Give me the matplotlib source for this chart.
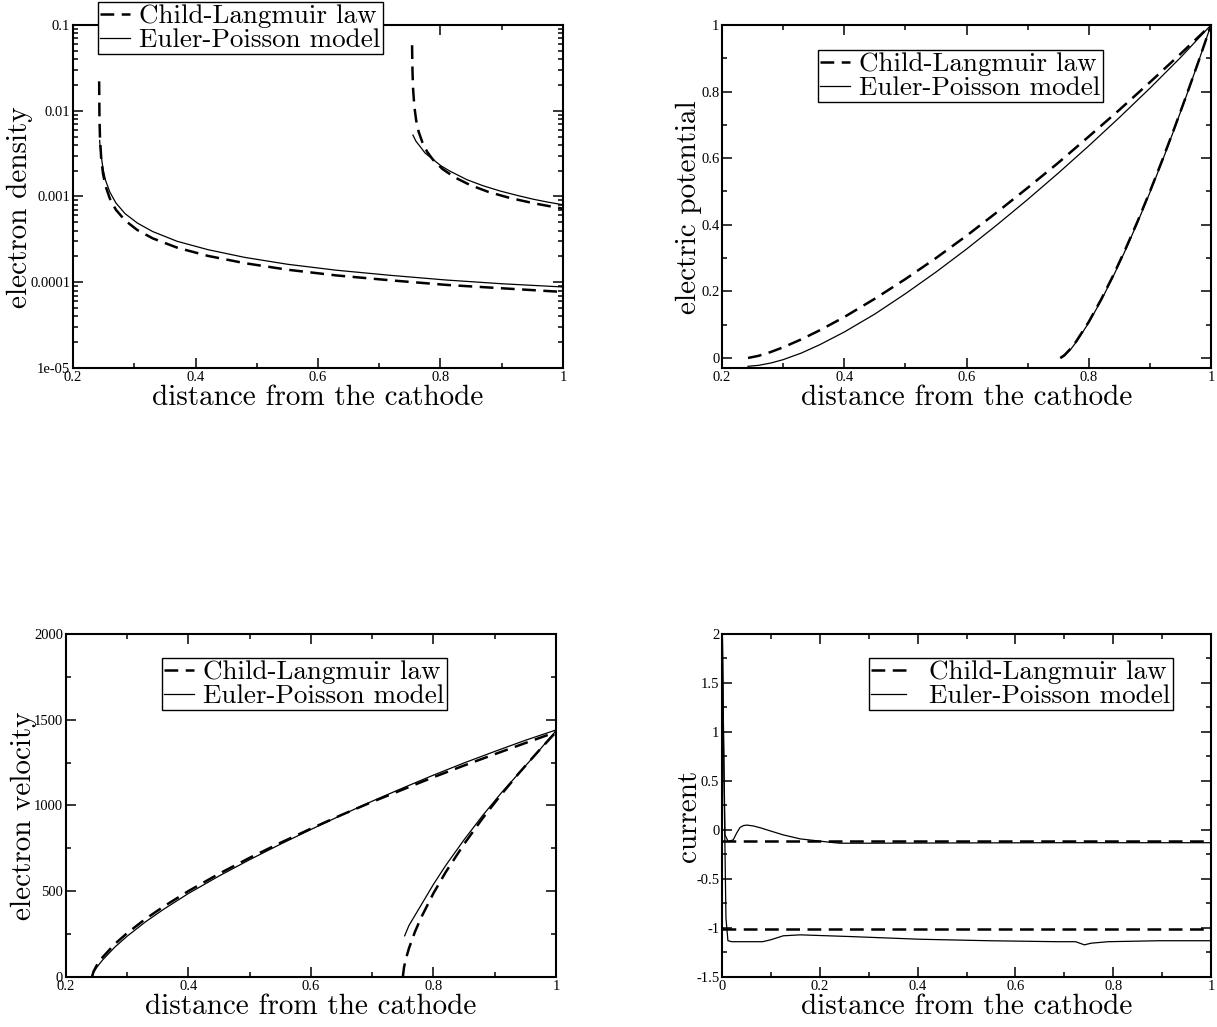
import matplotlib
matplotlib.use("Agg")
import matplotlib.pyplot as plt
from matplotlib.ticker import MultipleLocator, FuncFormatter, LogLocator, NullFormatter

# Text used on every panel
LEGEND_LABELS = ["Child-Langmuir law", "Euler-Poisson model"]
X_LABEL = "distance from the cathode"

# Electron density (top left, log scale)
dens_cl_x1 = [0.24266, 0.2432, 0.244, 0.246, 0.249, 0.253, 0.26, 0.27, 0.285, 0.305, 0.33,
              0.37, 0.42, 0.48, 0.55, 0.63, 0.72, 0.81, 0.90, 1.0]
dens_cl_y1 = [0.022, 0.0081, 0.0049, 0.00278, 0.00184, 0.00133, 0.00095, 0.00070, 0.000525,
              0.000406, 0.000325, 0.000253, 0.000203, 0.000167, 0.000140, 0.000120, 0.000105,
              0.000093, 0.000085, 0.000077]
dens_ep_x1 = [0.2435, 0.244, 0.246, 0.249, 0.253, 0.26, 0.27, 0.285, 0.305, 0.33, 0.37, 0.42,
              0.48, 0.55, 0.63, 0.72, 0.81, 0.90, 1.0]
dens_ep_y1 = [0.0045, 0.0040, 0.0030, 0.0021, 0.00155, 0.00113, 0.00084, 0.00063, 0.00049,
              0.00039, 0.00030, 0.00024, 0.000195, 0.000162, 0.000138, 0.000120, 0.000106,
              0.000096, 0.000088]
dens_cl_x2 = [0.75364, 0.7538, 0.7543, 0.7553, 0.7573, 0.7603, 0.7643, 0.7703, 0.7783, 0.7883,
              0.8033, 0.8233, 0.8483, 0.8783, 0.9133, 0.9533, 1.0]
dens_cl_y2 = [0.058, 0.0449, 0.0283, 0.0178, 0.0112, 0.0077, 0.0057, 0.0043, 0.00331, 0.00265,
              0.00209, 0.00167, 0.00136, 0.00113, 0.00096, 0.00083, 0.00072]
dens_ep_x2 = [0.755, 0.76, 0.767, 0.775, 0.788, 0.80, 0.815, 0.83, 0.843, 0.87, 0.897, 0.925,
              0.951, 0.975, 1.0]
dens_ep_y2 = [0.0052, 0.0044, 0.0038, 0.0032, 0.0027, 0.0023, 0.00198, 0.00175, 0.00157,
              0.00133, 0.00116, 0.00103, 0.00093, 0.00086, 0.00080]

# Electric potential (top right)
pot_x1 = [0.2425, 0.26, 0.28, 0.30, 0.33, 0.36, 0.40, 0.45, 0.50, 0.55, 0.60, 0.65, 0.70,
          0.75, 0.80, 0.85, 0.90, 0.95, 1.0]
pot_cl_y1 = [0.0, 0.0066, 0.0182, 0.0321, 0.0562, 0.0833, 0.123, 0.178, 0.237, 0.300, 0.367,
             0.438, 0.511, 0.586, 0.665, 0.745, 0.828, 0.913, 1.0]
pot_ep_y1 = [-0.025, -0.022, -0.015, -0.005, 0.015, 0.040, 0.078, 0.132, 0.193, 0.258, 0.327,
             0.400, 0.476, 0.555, 0.637, 0.722, 0.810, 0.902, 1.0]
pot_cl_x2 = [0.7533, 0.76, 0.77, 0.78, 0.80, 0.82, 0.84, 0.86, 0.88, 0.90, 0.92, 0.94, 0.96,
             0.98, 1.0]
pot_cl_y2 = [0.0, 0.0082, 0.0276, 0.0516, 0.1087, 0.175, 0.248, 0.327, 0.411, 0.500, 0.593,
             0.690, 0.790, 0.893, 1.0]
pot_ep_x2 = [0.755, 0.76, 0.77, 0.78, 0.80, 0.82, 0.84, 0.86, 0.88, 0.90, 0.92, 0.94, 0.96,
             0.98, 1.0]
pot_ep_y2 = [0.0, 0.006, 0.025, 0.049, 0.106, 0.172, 0.245, 0.324, 0.408, 0.497, 0.590, 0.688,
             0.789, 0.893, 1.0]

# Electron velocity (bottom left)
vel_x1 = [0.2425, 0.245, 0.25, 0.26, 0.28, 0.30, 0.33, 0.36, 0.40, 0.45, 0.50, 0.55, 0.60,
          0.65, 0.70, 0.75, 0.80, 0.85, 0.90, 0.95, 1.0]
vel_cl_y1 = [0, 32, 66, 116, 193, 256, 339, 412, 501, 602, 695, 782, 865, 945, 1021, 1093,
             1165, 1233, 1299, 1364, 1428]
vel_ep_y1 = [0, 25, 55, 100, 175, 238, 322, 396, 487, 589, 684, 774, 860, 944, 1025, 1102,
             1177, 1248, 1315, 1380, 1440]
vel_cl_x2 = [0.750, 0.752, 0.755, 0.76, 0.77, 0.78, 0.80, 0.82, 0.85, 0.88, 0.91, 0.94, 0.97,
             1.0]
vel_cl_y2 = [0, 57, 105, 167, 265, 347, 488, 611, 775, 924, 1061, 1190, 1311, 1428]
vel_ep_x2 = [0.753, 0.76, 0.78, 0.80, 0.82, 0.85, 0.88, 0.91, 0.94, 0.97, 1.0]
vel_ep_y2 = [240, 300, 420, 540, 650, 800, 940, 1070, 1190, 1310, 1435]

# Current (bottom right)
cur_x = [0.0, 1.0]
cur_cl_y1 = [-0.108, -0.108]
cur_cl_y2 = [-1.014, -1.014]
cur_ep_x1 = [0.0, 0.003, 0.006, 0.0126, 0.023, 0.03, 0.037, 0.044, 0.051, 0.065, 0.08, 0.097,
             0.125, 0.16, 0.195, 0.22, 0.24, 0.30, 0.50, 0.70, 1.0]
cur_ep_y1 = [2.3, 1.0, -0.05, -0.118, -0.10, -0.03, 0.027, 0.045, 0.05, 0.04, 0.02, -0.007,
             -0.05, -0.091, -0.111, -0.125, -0.135, -0.135, -0.132, -0.13, -0.13]
cur_ep_x2 = [0.0, 0.004, 0.008, 0.012, 0.02, 0.083, 0.10, 0.125, 0.16, 0.265, 0.405, 0.545,
             0.685, 0.723, 0.741, 0.755, 0.79, 0.895, 1.0]
cur_ep_y2 = [2.3, 0.5, -0.9, -1.13, -1.14, -1.14, -1.12, -1.08, -1.07, -1.088, -1.115, -1.13,
             -1.14, -1.14, -1.172, -1.155, -1.14, -1.13, -1.13]

CM_FONT = "cmr10"
TICK_FONT = "Liberation Serif"
LABEL_SIZE = 21
LEGEND_SIZE = 19.5
DASHES = (5.5, 3)


# Sets spines, ticks and tick labels like the original xmgrace output
def style_axes(ax, xmajor, ymajor=None, ylog=False):
    for spine in ax.spines.values():
        spine.set_linewidth(1.5)

    ax.xaxis.set_major_locator(MultipleLocator(xmajor))
    ax.xaxis.set_minor_locator(MultipleLocator(xmajor / 2))
    ax.xaxis.set_major_formatter(FuncFormatter(lambda v, p: f"{v:g}"))

    if ylog:
        ax.set_yscale("log")
        ax.yaxis.set_major_locator(LogLocator(base=10, numticks=10))
        ax.yaxis.set_minor_locator(LogLocator(base=10, subs=range(2, 10), numticks=20))
        ax.yaxis.set_minor_formatter(NullFormatter())
    else:
        ax.yaxis.set_major_locator(MultipleLocator(ymajor))
        ax.yaxis.set_minor_locator(MultipleLocator(ymajor / 2))
    ax.yaxis.set_major_formatter(FuncFormatter(lambda v, p: f"{v:g}"))

    ax.tick_params(which="both", direction="in", top=True, right=True, width=1.1)
    ax.tick_params(which="major", length=7, pad=2, labelsize=10.5)
    ax.tick_params(which="minor", length=3.6)
    for lab in ax.get_xticklabels() + ax.get_yticklabels():
        lab.set_fontfamily(TICK_FONT)


# Adds axis labels and the boxed legend
def add_labels(ax, ylabel, ylab_x, legend_xy, textpad=0.35, handlelen=1.1):
    ax.set_xlabel(X_LABEL, fontfamily=CM_FONT, fontsize=LABEL_SIZE)
    ax.xaxis.set_label_coords(0.5, -0.048)
    ax.set_ylabel(ylabel, fontfamily=CM_FONT, fontsize=LABEL_SIZE, va="center")
    ax.yaxis.set_label_coords(ylab_x, 0.47)

    leg = ax.legend(loc="upper left", bbox_to_anchor=legend_xy, frameon=True, fancybox=False,
                    edgecolor="black", framealpha=1, borderpad=0.08, labelspacing=0.0,
                    handlelength=handlelen, handletextpad=textpad, borderaxespad=0,
                    prop={"family": CM_FONT, "size": LEGEND_SIZE})
    leg.get_frame().set_linewidth(1.0)
    leg.set_zorder(5)


def draw_pair(ax, xs_cl, ys_cl, xs_ep, ys_ep, with_label):
    ax.plot(xs_cl, ys_cl, color="black", lw=1.8, dashes=DASHES,
            label=LEGEND_LABELS[0] if with_label else None)
    ax.plot(xs_ep, ys_ep, color="black", lw=0.9,
            label=LEGEND_LABELS[1] if with_label else None)


def main():
    fig = plt.figure(figsize=(12.17, 10.27), dpi=100)

    ax_tl = fig.add_axes([0.0600, 0.6417, 0.4026, 0.3340])
    ax_tr = fig.add_axes([0.5933, 0.6417, 0.4018, 0.3340])
    ax_bl = fig.add_axes([0.0542, 0.0487, 0.4026, 0.3340])
    ax_br = fig.add_axes([0.5933, 0.0487, 0.4018, 0.3340])

    # Electron density
    draw_pair(ax_tl, dens_cl_x1, dens_cl_y1, dens_ep_x1, dens_ep_y1, True)
    draw_pair(ax_tl, dens_cl_x2, dens_cl_y2, dens_ep_x2, dens_ep_y2, False)
    style_axes(ax_tl, 0.2, ylog=True)
    ax_tl.set_xlim(0.2, 1)
    ax_tl.set_ylim(1e-5, 0.1)
    add_labels(ax_tl, "electron density", -0.108, (0.051, 1.067))

    # Electric potential
    draw_pair(ax_tr, pot_x1, pot_cl_y1, pot_x1, pot_ep_y1, True)
    draw_pair(ax_tr, pot_cl_x2, pot_cl_y2, pot_ep_x2, pot_ep_y2, False)
    style_axes(ax_tr, 0.2, 0.2)
    ax_tr.set_xlim(0.2, 1)
    ax_tr.set_ylim(-0.03, 1)
    add_labels(ax_tr, "electric potential", -0.067, (0.196, 0.927))

    # Electron velocity
    draw_pair(ax_bl, vel_x1, vel_cl_y1, vel_x1, vel_ep_y1, True)
    draw_pair(ax_bl, vel_cl_x2, vel_cl_y2, vel_ep_x2, vel_ep_y2, False)
    style_axes(ax_bl, 0.2, 500)
    ax_bl.set_xlim(0.2, 1)
    ax_bl.set_ylim(0, 2000)
    add_labels(ax_bl, "electron velocity", -0.085, (0.196, 0.930))

    # Current
    draw_pair(ax_br, cur_x, cur_cl_y1, cur_ep_x1, cur_ep_y1, True)
    draw_pair(ax_br, cur_x, cur_cl_y2, cur_ep_x2, cur_ep_y2, False)
    style_axes(ax_br, 0.2, 0.5)
    ax_br.set_xlim(0, 1)
    ax_br.set_ylim(-1.5, 2)
    add_labels(ax_br, "current", -0.067, (0.30, 0.930), textpad=0.85, handlelen=1.3)

    fig.savefig("out.png", dpi=100)


if __name__ == "__main__":
    main()
